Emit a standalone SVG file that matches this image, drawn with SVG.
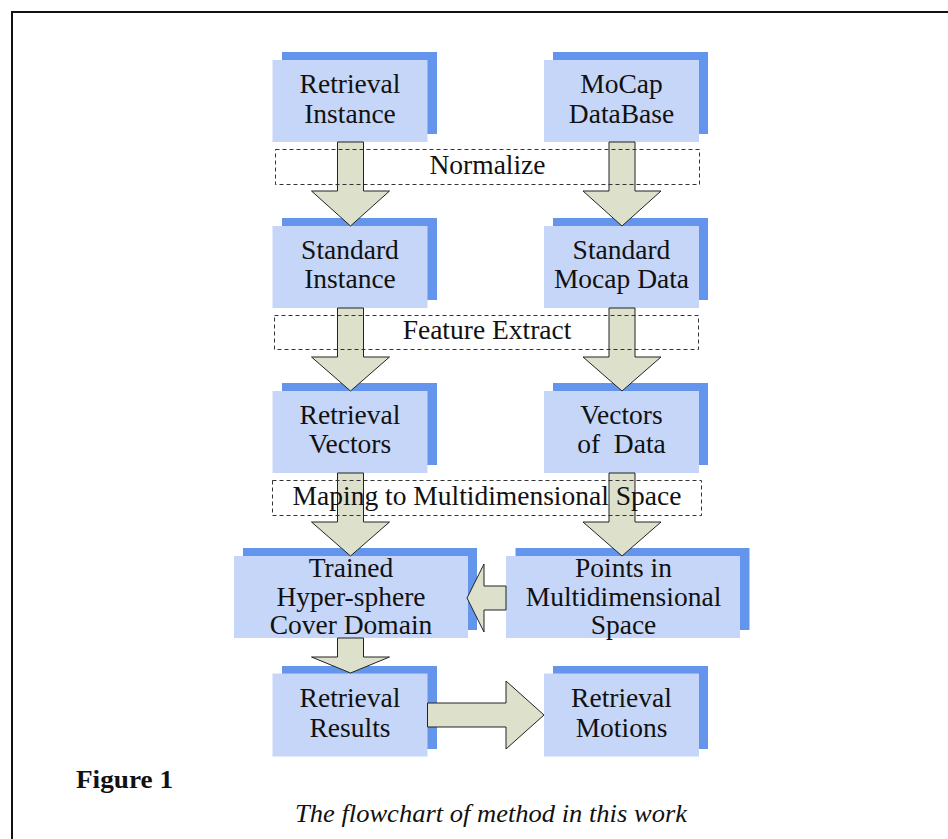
<svg xmlns="http://www.w3.org/2000/svg" width="948" height="839" viewBox="0 0 948 839">
<style>
.sh{fill:#6495ed}
.fr{fill:#c5d6f8}
.t{font-family:"Liberation Serif","Times New Roman",serif;font-size:27.5px;fill:#111;text-anchor:middle}
.arr{fill:#dde0ca;stroke:#222;stroke-width:1}
.dash{fill:none;stroke:#333;stroke-width:1;stroke-dasharray:4,3}
</style>
<rect x="0" y="0" width="948" height="839" fill="#fff"/>
<path d="M12 839 V12 H948" fill="none" stroke="#111" stroke-width="2"/>

<g id="n-retrieval-instance">
<rect class="sh" x="282" y="52" width="155" height="82"/>
<rect class="fr" x="272.5" y="60" width="155" height="82"/>
<text class="t" x="350" y="93">Retrieval</text>
<text class="t" x="350" y="122.5">Instance</text>
</g>
<g id="n-mocap-database">
<rect class="sh" x="553" y="52" width="155" height="82"/>
<rect class="fr" x="544" y="60" width="155" height="82"/>
<text class="t" x="621.5" y="93">MoCap</text>
<text class="t" x="621.5" y="122.5">DataBase</text>
</g>
<g id="n-standard-instance">
<rect class="sh" x="282" y="218" width="155" height="82"/>
<rect class="fr" x="272.5" y="226" width="155" height="82"/>
<text class="t" x="350" y="259">Standard</text>
<text class="t" x="350" y="287.5">Instance</text>
</g>
<g id="n-standard-mocap">
<rect class="sh" x="553" y="218" width="155" height="82"/>
<rect class="fr" x="544" y="226" width="155" height="82"/>
<text class="t" x="621.5" y="259">Standard</text>
<text class="t" x="621.5" y="287.5">Mocap Data</text>
</g>
<g id="n-retrieval-vectors">
<rect class="sh" x="282" y="383" width="155" height="82"/>
<rect class="fr" x="272.5" y="391" width="155" height="82"/>
<text class="t" x="350" y="424">Retrieval</text>
<text class="t" x="350" y="453">Vectors</text>
</g>
<g id="n-vectors-data">
<rect class="sh" x="553" y="383" width="155" height="82"/>
<rect class="fr" x="544" y="391" width="155" height="82"/>
<text class="t" x="621.5" y="424">Vectors</text>
<text class="t" x="621.5" y="453" style="white-space:pre">of  Data</text>
</g>
<g id="n-trained">
<rect class="sh" x="243" y="548" width="234" height="82"/>
<rect class="fr" x="234" y="556" width="234" height="82"/>
<text class="t" x="351" y="576.5">Trained</text>
<text class="t" x="351" y="605.5">Hyper-sphere</text>
<text class="t" x="351" y="634">Cover Domain</text>
</g>
<g id="n-points">
<rect class="sh" x="515.5" y="548" width="234" height="82"/>
<rect class="fr" x="506" y="556" width="234" height="82"/>
<text class="t" x="623.5" y="576.5">Points in</text>
<text class="t" x="623.5" y="605.5">Multidimensional</text>
<text class="t" x="623.5" y="634">Space</text>
</g>
<g id="n-retrieval-results">
<rect class="sh" x="282" y="666" width="155" height="83"/>
<rect class="fr" x="272.5" y="673.5" width="155" height="83"/>
<text class="t" x="350" y="706.5">Retrieval</text>
<text class="t" x="350" y="736.5">Results</text>
</g>
<g id="n-retrieval-motions">
<rect class="sh" x="553" y="666" width="155" height="83"/>
<rect class="fr" x="544" y="673.5" width="155" height="83"/>
<text class="t" x="621.5" y="706.5">Retrieval</text>
<text class="t" x="621.5" y="736.5">Motions</text>
</g>

<g id="connectors">
<polygon class="arr" points="337.5,142 363.5,142 363.5,191 389.5,191 350.5,226 311.5,191 337.5,191"/>
<polygon class="arr" points="609,142 635,142 635,191 661,191 622,226 583,191 609,191"/>
<polygon class="arr" points="337.5,308 363.5,308 363.5,357 389.5,357 350.5,391 311.5,357 337.5,357"/>
<polygon class="arr" points="609,308 635,308 635,357 661,357 622,391 583,357 609,357"/>
<polygon class="arr" points="337.5,473 363.5,473 363.5,522 389.5,522 350.5,556 311.5,522 337.5,522"/>
<polygon class="arr" points="609,473 635,473 635,522 661,522 622,556 583,522 609,522"/>
<polygon class="arr" points="506,586 484,586 484,564 467,598 484,632 484,610 506,610"/>
<polygon class="arr" points="337.5,638 363.5,638 363.5,657 389.5,657 350.5,673 311.5,657 337.5,657"/>
<polygon class="arr" points="427.5,703 506,703 506,681 544,715 506,749 506,727 427.5,727"/>
</g>

<g id="step-normalize">
<rect class="dash" x="275.5" y="149.5" width="424" height="35"/>
<text class="t" x="487.5" y="173.5">Normalize</text>
</g>
<g id="step-feature-extract">
<rect class="dash" x="274.5" y="315.5" width="424" height="34"/>
<text class="t" x="487" y="338.5">Feature Extract</text>
</g>
<g id="step-maping">
<rect class="dash" x="272.5" y="480.5" width="429" height="35"/>
<text class="t" x="487" y="504.5">Maping to Multidimensional Space</text>
</g>

<text x="76" y="788" font-family="'Liberation Serif','Times New Roman',serif" font-size="26" font-weight="bold" fill="#111" textLength="97" lengthAdjust="spacingAndGlyphs">Figure 1</text>
<text x="295" y="822" font-family="'Liberation Serif','Times New Roman',serif" font-size="26" font-style="italic" fill="#111" textLength="392" lengthAdjust="spacingAndGlyphs">The flowchart of method in this work</text>
</svg>
